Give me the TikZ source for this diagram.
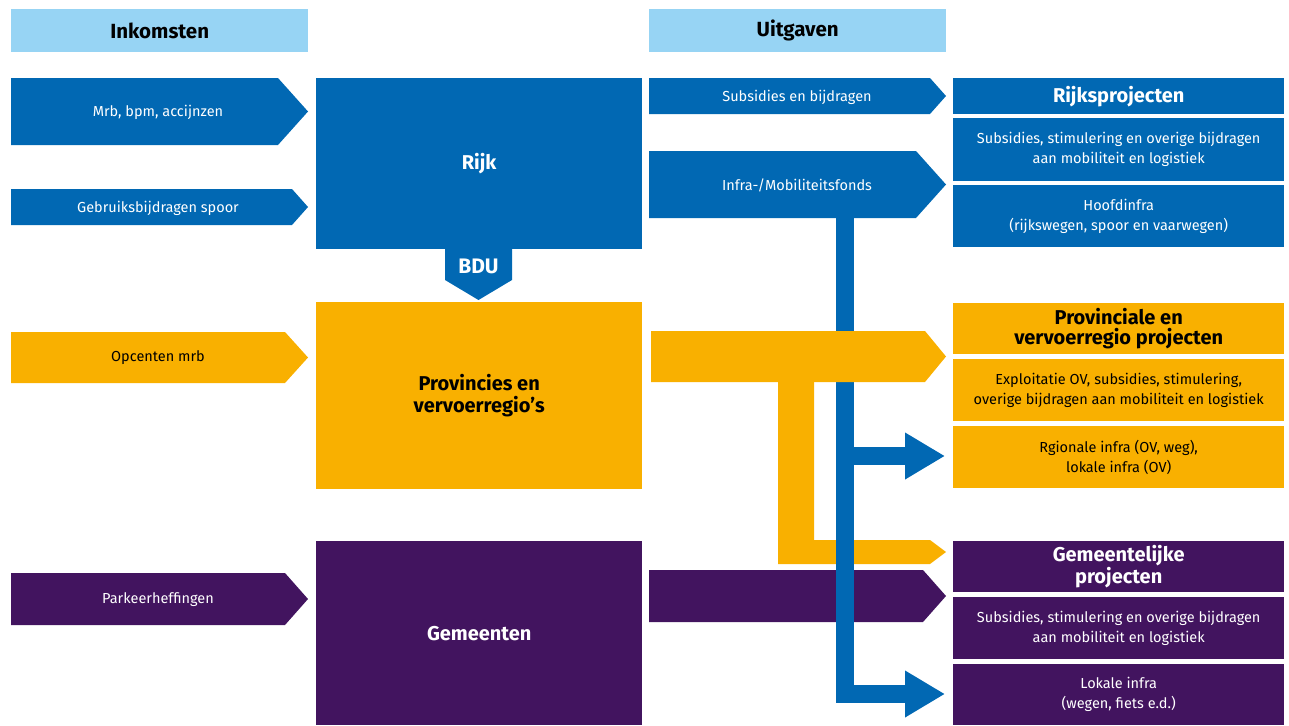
\documentclass[tikz,border=0pt]{standalone}
\usepackage{fontspec}
\setmainfont{Fira Sans}
\usetikzlibrary{arrows.meta}
\definecolor{roblue}{RGB}{1,104,179}
\definecolor{rolight}{RGB}{151,212,244}
\definecolor{royellow}{RGB}{249,176,0}
\definecolor{ropurple}{RGB}{66,20,95}
\tikzset{
  hdr/.style={fill=rolight, text=black, font=\fontsize{20.5}{22}\selectfont\bfseries, minimum width=297pt, minimum height=43pt, anchor=north west, inner sep=0pt},
  bigbox/.style={minimum width=326pt, anchor=north west, inner sep=0pt, font=\fontsize{20}{22}\selectfont\bfseries, align=center},
  rbox/.style={minimum width=331pt, anchor=north west, inner sep=0pt, align=center, font=\fontsize{14.5}{20}\selectfont},
  rtitle/.style={rbox, font=\fontsize{20}{20}\selectfont\bfseries},
  lbl/.style={inner sep=0pt, font=\fontsize{14.5}{16}\selectfont, align=center},
  bluebar/.style={draw=roblue, line width=18pt, -{Triangle[width=44pt,length=40pt]}},
}
\begin{document}
\begin{tikzpicture}[x=1pt,y=-1pt]
\useasboundingbox (0,0) rectangle (1289,725);
% headers
\node[hdr] (ink) at (11,9) {Inkomsten};
\node[hdr] (uit) at (649,9) {Uitgaven};
% left income arrows
\fill[roblue] (11,78) -- (278,78) -- (308,111.5) -- (278,145) -- (11,145) -- cycle;
\node[lbl, text=white] (mrb) at (158,112) {Mrb, bpm, accijnzen};
\fill[roblue] (11,189) -- (292,189) -- (308,207) -- (292,225) -- (11,225) -- cycle;
\node[lbl, text=white] (geb) at (158,208) {Gebruiksbijdragen spoor};
\fill[royellow] (11,332) -- (285,332) -- (308,357.5) -- (285,383) -- (11,383) -- cycle;
\node[lbl, text=black] (opc) at (158,358) {Opcenten mrb};
\fill[ropurple] (11,573) -- (285,573) -- (308,599) -- (285,625) -- (11,625) -- cycle;
\node[lbl, text=white] (prk) at (158,600) {Parkeerheffingen};
% central boxes
\node[bigbox, fill=roblue, text=white, minimum height=171pt] (rijk) at (316,78) {Rijk};
\fill[roblue] (445,249) -- (512,249) -- (512,280) -- (478.5,300) -- (445,280) -- cycle;
\node[font=\fontsize{21}{22}\selectfont\bfseries, text=white, inner sep=0pt] (bdu) at (478.5,266) {BDU};
\node[bigbox, fill=royellow, text=black, minimum height=187pt] (prov) at (316,302) {Provincies en\\vervoerregio’s};
\node[bigbox, fill=ropurple, text=white, minimum height=184pt] (gem) at (316,541) {Gemeenten};
% right boxes
\node[rtitle, fill=roblue, text=white, minimum height=36pt] (rp) at (953,78) {Rijksprojecten};
\node[rbox, fill=roblue, text=white, minimum height=63pt] (rp1) at (953,118) {Subsidies, stimulering en overige bijdragen\\aan mobiliteit en logistiek};
\node[rbox, fill=roblue, text=white, minimum height=62pt] (rp2) at (953,185) {Hoofdinfra\\(rijkswegen, spoor en vaarwegen)};
\node[rtitle, fill=royellow, text=black, minimum height=51pt] (pp) at (953,303) {Provinciale en\\vervoerregio projecten};
\node[rbox, fill=royellow, text=black, minimum height=62pt] (pp1) at (953,359) {Exploitatie OV, subsidies, stimulering,\\overige bijdragen aan mobiliteit en logistiek};
\node[rbox, fill=royellow, text=black, minimum height=62pt] (pp2) at (953,426) {Rgionale infra (OV, weg),\\lokale infra (OV)};
\node[rtitle, fill=ropurple, text=white, minimum height=51pt] (gp) at (953,541) {Gemeentelijke\\projecten};
\node[rbox, fill=ropurple, text=white, minimum height=62pt] (gp1) at (953,597) {Subsidies, stimulering en overige bijdragen\\aan mobiliteit en logistiek};
\node[rbox, fill=ropurple, text=white, minimum height=61pt] (gp2) at (953,664) {Lokale infra\\(wegen, fiets e.d.)};
% expenditure arrows
\fill[roblue] (649,78) -- (930,78) -- (946,96) -- (930,114) -- (649,114) -- cycle;
\node[lbl, text=white] (sub) at (797,97) {Subsidies en bijdragen};
\fill[roblue] (649,151) -- (916,151) -- (946,184.5) -- (916,218) -- (649,218) -- cycle;
\node[lbl, text=white] (inf) at (797,185) {Infra-/Mobiliteitsfonds};
% yellow L connector
\fill[royellow] (778,382) -- (814,382) -- (814,540) -- (930,540) -- (946,552) -- (930,564) -- (778,564) -- cycle;
\coordinate (ytip) at (946,552);
% purple arrow
\fill[ropurple] (649,570) -- (923,570) -- (946,596) -- (923,622) -- (649,622) -- cycle;
\coordinate (ptip) at (946,596);
% blue bar
\coordinate (bstart) at (844.5,214);
\coordinate (bcorner) at (844.5,694);
\coordinate (bbranch) at (844.5,456);
\draw[bluebar] (bstart) -- (bcorner) -- ([xshift=-8pt]bcorner -| gp2.west);
\draw[bluebar] (bbranch) -- ([xshift=-8pt]bbranch -| pp2.west);
% yellow top arrow (over blue bar)
\fill[royellow] (651,331) -- (925,331) -- (946,356.5) -- (925,382) -- (651,382) -- cycle;
\coordinate (yatip) at (946,356.5);
\end{tikzpicture}
\end{document}
